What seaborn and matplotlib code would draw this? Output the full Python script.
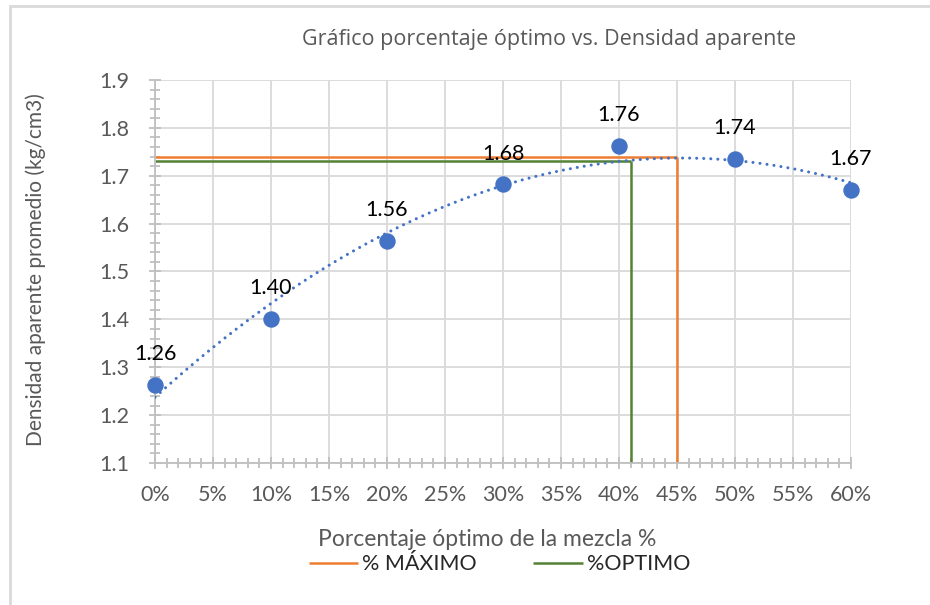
import numpy as np
import matplotlib
matplotlib.use('Agg')
import matplotlib.pyplot as plt
import seaborn as sns
from matplotlib.ticker import MultipleLocator, FuncFormatter
from matplotlib.patches import Rectangle

# data
porcentaje = [0, 10, 20, 30, 40, 50, 60]
densidad = [1.263, 1.401, 1.564, 1.682, 1.762, 1.735, 1.671]
etiquetas = ['1.26', '1.40', '1.56', '1.68', '1.76', '1.74', '1.67']
max_pct, max_dens = 45, 1.74
opt_pct, opt_dens = 41, 1.73

sns.set_theme(style='white')
plt.rcParams['font.family'] = ['Lato', 'DejaVu Sans']

azul = '#4472C4'
naranja = '#ED7D31'
verde = '#548235'
gris = '#595959'

fig = plt.figure(figsize=(9.3, 6.05), dpi=100)
ax = fig.add_axes([0.1667, 0.2347, 0.7483, 0.6331])

# polynomial (order 2) trendline, like Excel
coef = np.polyfit(porcentaje, densidad, 2)
xs = np.linspace(0, 60, 200)
sns.lineplot(x=xs, y=np.polyval(coef, xs), ax=ax, color=azul, lw=2.2,
             linestyle=(0, (0.01, 2.3)), dash_capstyle='round', zorder=3, legend=False)

ax.hlines(max_dens, 0, max_pct, color=naranja, lw=1.8, zorder=2, label='% MÁXIMO')
ax.vlines(max_pct, 1.1, max_dens, color=naranja, lw=1.8, zorder=2)
ax.hlines(opt_dens, 0, opt_pct, color=verde, lw=1.8, zorder=2, label='%OPTIMO')
ax.vlines(opt_pct, 1.1, opt_dens, color=verde, lw=1.8, zorder=2)

sns.scatterplot(x=porcentaje, y=densidad, ax=ax, color=azul, s=140,
                edgecolor=azul, linewidth=0, zorder=4, clip_on=False, legend=False)
if ax.get_legend() is not None:
    ax.get_legend().remove()

for x, y, t in zip(porcentaje, densidad, etiquetas):
    ax.annotate(t, (x, y), xytext=(0, 22), textcoords='offset points',
                ha='center', va='center', fontsize=15.5, color='black')

ax.set_xlim(0, 60)
ax.set_ylim(1.1, 1.9)
ax.xaxis.set_major_locator(MultipleLocator(5))
ax.xaxis.set_minor_locator(MultipleLocator(1))
ax.yaxis.set_major_locator(MultipleLocator(0.1))
ax.yaxis.set_minor_locator(MultipleLocator(0.02))
ax.xaxis.set_major_formatter(FuncFormatter(lambda v, p: f'{v:.0f}%'))
ax.yaxis.set_major_formatter(FuncFormatter(lambda v, p: f'{v:.1f}'))

ax.grid(True, which='major', color='#D9D9D9', lw=1.3)
ax.set_axisbelow(True)
for s in ['top', 'right']:
    ax.spines[s].set_visible(False)
for s in ['left', 'bottom']:
    ax.spines[s].set_color('#BFBFBF')
    ax.spines[s].set_linewidth(1.3)

ax.tick_params(which='both', direction='inout', color='#BFBFBF', width=1.3,
               labelsize=15.5, labelcolor=gris)
ax.tick_params(which='major', length=9)
ax.tick_params(which='minor', length=7)
ax.tick_params(axis='x', which='both', bottom=True, pad=11)
ax.tick_params(axis='y', which='both', left=True, pad=14)

ax.set_xlabel('Porcentaje óptimo de la mezcla %', fontsize=16.5, color=gris)
ax.set_ylabel('Densidad aparente promedio (kg/cm3)', fontsize=15, color=gris)
ax.xaxis.set_label_coords(0.477, -0.172)
ax.yaxis.set_label_coords(-0.156, 0.504)

fig.text(0.59, 0.934, 'Gráfico porcentaje óptimo vs. Densidad aparente',
         ha='center', va='center', fontsize=15.5, color=gris, family=['Open Sans', 'DejaVu Sans'])

leg = fig.legend(*ax.get_legend_handles_labels(), loc='center', bbox_to_anchor=(0.537, 0.067),
                 ncol=2, frameon=False, fontsize=15.5, handlelength=2.3,
                 columnspacing=2.6, handletextpad=0.2)

fig.patches.append(Rectangle((10 / 930, -0.1), 1.2, 1 - 6 / 605 + 0.1, transform=fig.transFigure,
                             fill=False, edgecolor='#D9D9D9', lw=2))

fig.savefig('out.png', dpi=100)
